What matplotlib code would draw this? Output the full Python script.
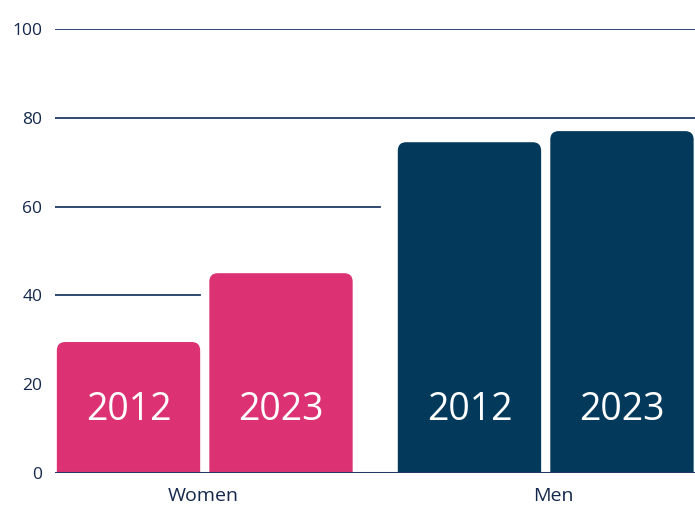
import matplotlib.pyplot as plt
from matplotlib.patches import PathPatch
from matplotlib.path import Path

groups = ["Women", "Men"]
years = ["2012", "2023"]
women = [29.5, 45.0]
men = [74.5, 77.0]

PINK = "#DC3273"
NAVY = "#033A5C"
GRID = "#1F3864"
TEXT = "#14284B"

plt.rcParams['font.family'] = ['Open Sans', 'DejaVu Sans']

fig = plt.figure(figsize=(6.95, 5.05), dpi=100)
ax = fig.add_axes([55 / 695, 32 / 505, 640 / 695, 444 / 505])

# bar slots: two per group, groups spaced apart
slot = [0.0, 1.0]
group_off = [0.0, 2.236]
width = 0.94
ax.set_xlim(-0.482, 3.715)
ax.set_ylim(0, 100)

# gridlines (the reference only shows parts of the lower ones)
for val, xmax in [(100, 1.0), (80, 1.0), (60, 0.508), (40, 0.227)]:
    ax.axhline(val, xmin=0, xmax=xmax, color=GRID, lw=1.3, zorder=1)
ax.axhline(0, color=GRID, lw=2.2, zorder=5)


def top_rounded(x, w, h, rx=0.055, ry=1.9):
    verts = [(x, 0), (x, h - ry), (x, h), (x + rx, h), (x + w - rx, h),
             (x + w, h), (x + w, h - ry), (x + w, 0), (x, 0)]
    codes = [Path.MOVETO, Path.LINETO, Path.CURVE3, Path.CURVE3, Path.LINETO,
             Path.CURVE3, Path.CURVE3, Path.LINETO, Path.CLOSEPOLY]
    return Path(verts, codes)


for g, (vals, col) in enumerate([(women, PINK), (men, NAVY)]):
    bars = ax.bar([group_off[g] + s for s in slot], vals, width=width, color="none")
    for b, yr in zip(bars, years):
        x, w, h = b.get_x(), b.get_width(), b.get_height()
        ax.add_patch(PathPatch(top_rounded(x, w, h), fc=col, ec="none", zorder=3))
        ax.text(x + w / 2, 14.3, yr, color="white", fontsize=27, fontweight="medium",
                ha="center", va="center", zorder=4)

ax.set_xticks([group_off[0] + 0.49, group_off[1] + 0.55])
ax.set_xticklabels(groups, fontsize=14, color=TEXT)
ax.set_yticks([0, 20, 40, 60, 80, 100])
ax.set_yticklabels(["0", "20", "40", "60", "80", "100"], fontsize=12.5, color=TEXT)
ax.tick_params(length=0, pad=9)
ax.tick_params(axis="x", pad=10)
for s in ax.spines.values():
    s.set_visible(False)

fig.savefig("out.png", dpi=100)
